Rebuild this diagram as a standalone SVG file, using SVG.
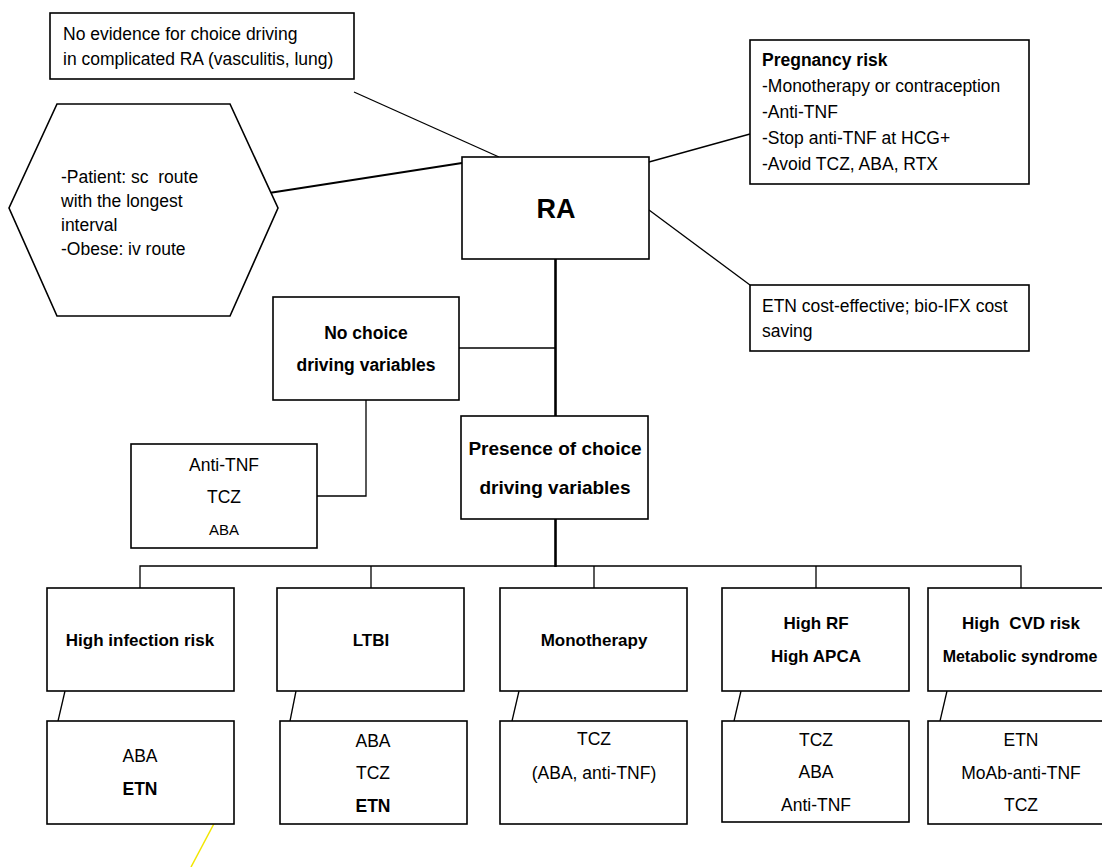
<svg xmlns="http://www.w3.org/2000/svg" width="1102" height="867" viewBox="0 0 1102 867">
<style>
.box{fill:#fff;stroke:#000;stroke-width:1.6}
.ln{fill:none;stroke:#000;stroke-width:1.3}
.thick{fill:none;stroke:#000;stroke-width:2.6}
text{font-family:"Liberation Sans",Arial,sans-serif;font-size:17.5px;fill:#000}
.c{text-anchor:middle}
.b{font-weight:bold}
.cat{font-size:17px}
</style>
<rect width="1102" height="867" fill="#fff"/>
<g id="connectors">
<line class="ln" x1="354" y1="92" x2="499" y2="157"/>
<line class="ln" x1="269" y1="193" x2="462" y2="163" style="stroke-width:2"/>
<line class="ln" x1="649" y1="162" x2="750" y2="134"/>
<line class="ln" x1="649" y1="210" x2="750" y2="285"/>
<line class="thick" x1="555.5" y1="259" x2="555.5" y2="416"/>
<line class="ln" x1="459" y1="348" x2="555" y2="348"/>
<polyline class="ln" points="366,400 366,496 317,496"/>
<line class="thick" x1="555.5" y1="519" x2="555.5" y2="567"/>
<polyline class="ln" points="140,588 140,566 1021,566 1021,588"/>
<line class="ln" x1="371" y1="566" x2="371" y2="588"/>
<line class="ln" x1="594" y1="566" x2="594" y2="588"/>
<line class="ln" x1="816" y1="566" x2="816" y2="588"/>
<line class="ln" x1="65" y1="691" x2="58" y2="721"/>
<line class="ln" x1="296" y1="691" x2="290" y2="721"/>
<line class="ln" x1="519" y1="691" x2="512" y2="721"/>
<line class="ln" x1="741" y1="691" x2="734" y2="721"/>
<line class="ln" x1="947" y1="691" x2="940" y2="721"/>
<line x1="217" y1="818" x2="191" y2="867" stroke="#f2e600" stroke-width="1.5"/>
</g>
<g id="note-evidence">
<rect class="box" x="50" y="13" width="304" height="66"/>
<text x="63" y="40">No evidence for choice driving</text>
<text x="63" y="65">in complicated RA (vasculitis, lung)</text>
</g>
<g id="hex-route">
<polygon class="box" points="57,104 230,104 278,208 230,316 57,316 9,208"/>
<text x="61" y="183" style="white-space:pre">-Patient: sc  route</text>
<text x="61" y="207">with the longest</text>
<text x="61" y="231">interval</text>
<text x="61" y="255">-Obese: iv route</text>
</g>
<g id="ra">
<rect class="box" x="462" y="157" width="187" height="102"/>
<text class="c b" x="556" y="218" style="font-size:27px">RA</text>
</g>
<g id="pregnancy">
<rect class="box" x="750" y="40" width="279" height="144"/>
<text class="b" x="762" y="66">Pregnancy risk</text>
<text x="762" y="92">-Monotherapy or contraception</text>
<text x="762" y="118">-Anti-TNF</text>
<text x="762" y="144">-Stop anti-TNF at HCG+</text>
<text x="762" y="170">-Avoid TCZ, ABA, RTX</text>
</g>
<g id="cost">
<rect class="box" x="750" y="285" width="279" height="66"/>
<text x="762" y="312">ETN cost-effective; bio-IFX cost</text>
<text x="762" y="337">saving</text>
</g>
<g id="no-choice">
<rect class="box" x="273" y="297" width="186" height="103"/>
<text class="c b" x="366" y="339">No choice</text>
<text class="c b" x="366" y="371">driving variables</text>
</g>
<g id="no-choice-drugs">
<rect class="box" x="131" y="444" width="186" height="104"/>
<text class="c" x="224" y="471">Anti-TNF</text>
<text class="c" x="224" y="503">TCZ</text>
<text class="c" x="224" y="535" style="font-size:15px">ABA</text>
</g>
<g id="presence">
<rect class="box" x="461" y="416" width="187" height="103"/>
<text class="c b" x="555" y="455" style="font-size:19px">Presence of choice</text>
<text class="c b" x="555" y="494" style="font-size:19px">driving variables</text>
</g>
<g id="cat-infection">
<rect class="box" x="47" y="588" width="187" height="103"/>
<text class="c b cat" x="140" y="646">High infection risk</text>
</g>
<g id="cat-ltbi">
<rect class="box" x="277" y="588" width="187" height="103"/>
<text class="c b cat" x="371" y="646">LTBI</text>
</g>
<g id="cat-mono">
<rect class="box" x="500" y="588" width="187" height="103"/>
<text class="c b cat" x="594" y="646">Monotherapy</text>
</g>
<g id="cat-rf">
<rect class="box" x="722" y="588" width="187" height="103"/>
<text class="c b cat" x="816" y="629">High RF</text>
<text class="c b cat" x="816" y="662">High APCA</text>
</g>
<g id="cat-cvd">
<rect class="box" x="928" y="588" width="187" height="103"/>
<text class="c b cat" x="1021" y="629" style="white-space:pre">High  CVD risk</text>
<text class="c b" x="1020" y="662" style="font-size:16px">Metabolic syndrome</text>
</g>
<g id="res-infection">
<rect class="box" x="47" y="721" width="187" height="103"/>
<text class="c" x="140" y="762">ABA</text>
<text class="c b" x="140" y="795">ETN</text>
</g>
<g id="res-ltbi">
<rect class="box" x="280" y="721" width="187" height="103"/>
<text class="c" x="373" y="747">ABA</text>
<text class="c" x="373" y="779">TCZ</text>
<text class="c b" x="373" y="812">ETN</text>
</g>
<g id="res-mono">
<rect class="box" x="500" y="721" width="187" height="103"/>
<text class="c" x="594" y="745">TCZ</text>
<text class="c" x="594" y="779">(ABA, anti-TNF)</text>
</g>
<g id="res-rf">
<rect class="box" x="722" y="721" width="187" height="101"/>
<text class="c" x="816" y="746">TCZ</text>
<text class="c" x="816" y="778">ABA</text>
<text class="c" x="816" y="811">Anti-TNF</text>
</g>
<g id="res-cvd">
<rect class="box" x="928" y="721" width="187" height="103"/>
<text class="c" x="1021" y="746">ETN</text>
<text class="c" x="1021" y="779">MoAb-anti-TNF</text>
<text class="c" x="1021" y="811">TCZ</text>
</g>
</svg>
